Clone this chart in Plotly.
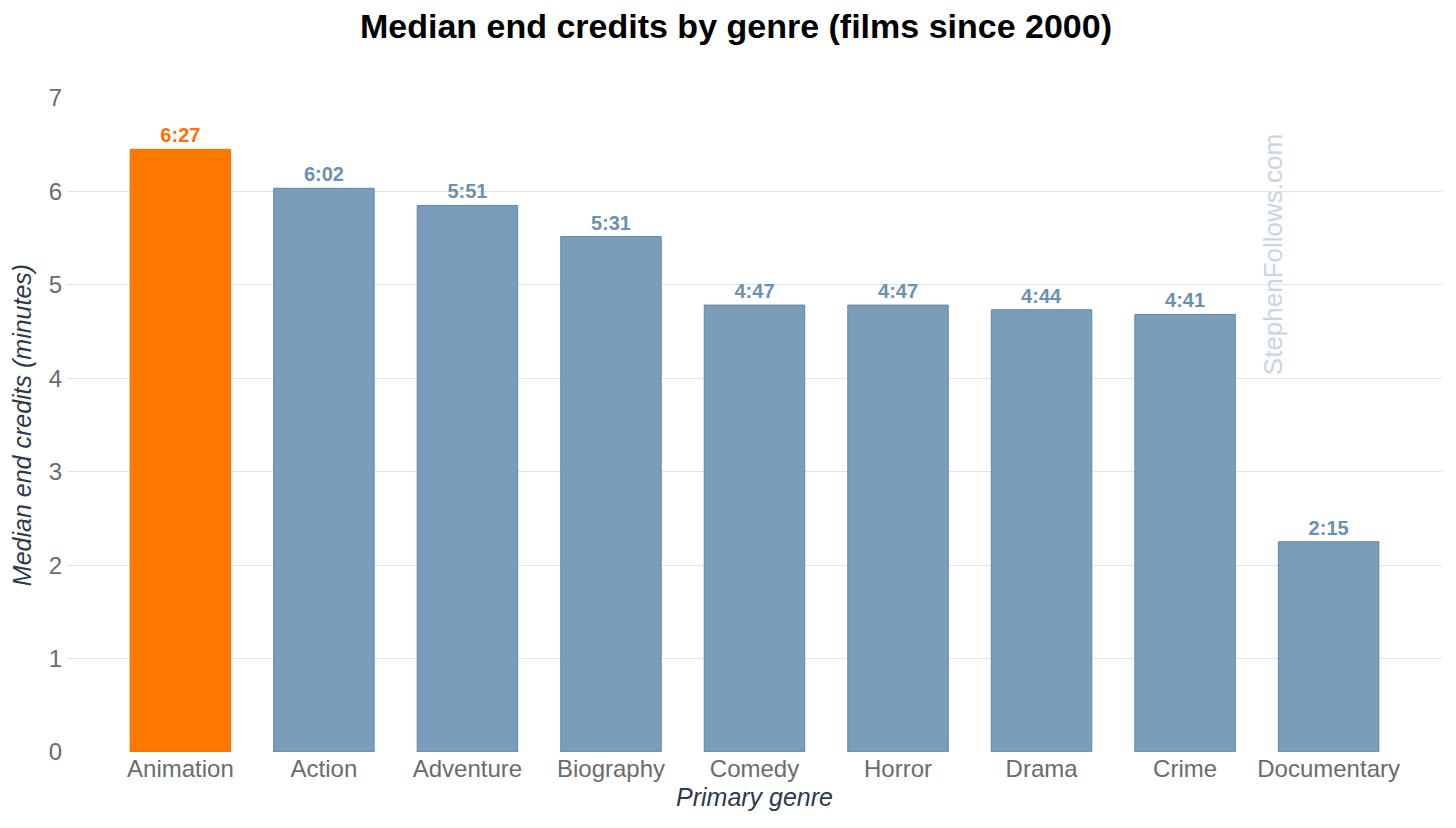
import plotly.graph_objects as go

genres = ["Animation", "Action", "Adventure", "Biography", "Comedy",
          "Horror", "Drama", "Crime", "Documentary"]
# median end credits, mm:ss
durations = ["6:27", "6:02", "5:51", "5:31", "4:47", "4:47", "4:44", "4:41", "2:15"]
minutes = [int(d.split(":")[0]) + int(d.split(":")[1]) / 60 for d in durations]
highlight = "Animation"

ORANGE = "#ff7800"
BLUE = "#7a9dba"

fill = [ORANGE if g == highlight else BLUE for g in genres]
edge = ["#f06a00" if g == highlight else "#5f86a8" for g in genres]
label_col = ["#ff7000" if g == highlight else "#6a91b2" for g in genres]

fig = go.Figure()
fig.add_trace(go.Bar(
    x=genres, y=minutes, width=0.7,
    marker=dict(color=fill, line=dict(color=edge, width=1)),
    text=durations, textposition="outside", cliponaxis=False,
    textfont=dict(family="Liberation Sans, Arial", size=20, color=label_col, weight="bold"),
    hoverinfo="skip", showlegend=False,
))
# invisible trace to carry the gridlines (no line at 0 or 7)
fig.add_trace(go.Scatter(x=[genres[0]], y=[0], yaxis="y2", mode="markers",
                         marker=dict(opacity=0), hoverinfo="skip", showlegend=False))

# margins allow for the page's 8px body margin
fig.update_layout(
    width=1456, height=828,
    margin=dict(l=59, r=22, t=90, b=84),
    plot_bgcolor="white", paper_bgcolor="white",
    font=dict(family="Liberation Sans, Arial", color="#666666"),
    title=dict(text="<b>Median end credits by genre (films since 2000)</b>",
               x=0.5, xanchor="center", y=0.978, yanchor="middle",
               font=dict(size=34, color="black")),
    xaxis=dict(range=[-0.79, 8.79], showgrid=False, showline=False, ticks="",
               tickfont=dict(size=24, color="#6b6b6b"),
               title=dict(text="<i>Primary genre</i>", standoff=7,
                          font=dict(size=25, color="#2b3a4c"))),
    yaxis=dict(range=[0, 7], tickvals=[0, 1, 2, 3, 4, 5, 6, 7], showgrid=False,
               zeroline=False, showline=False, ticks="",
               tickfont=dict(size=24, color="#6b6b6b"), ticklabelstandoff=4,
               title=dict(text="<i>Median end credits (minutes)</i>", standoff=10,
                          font=dict(size=25, color="#2b3a4c"))),
    yaxis2=dict(range=[0, 7], overlaying="y", tickvals=[1, 2, 3, 4, 5, 6],
                showticklabels=False, showgrid=True, gridcolor="#e3e3e3",
                gridwidth=1, zeroline=False, ticks=""),
    bargap=0.3,
)
fig.add_annotation(text="StephenFollows.com", xref="paper", yref="paper",
                   x=0.877, y=0.761, xanchor="center", yanchor="middle",
                   textangle=-90, showarrow=False,
                   font=dict(size=26, color="#c8d5e2", family="Liberation Sans, Arial"))
fig.write_html("out.html")
